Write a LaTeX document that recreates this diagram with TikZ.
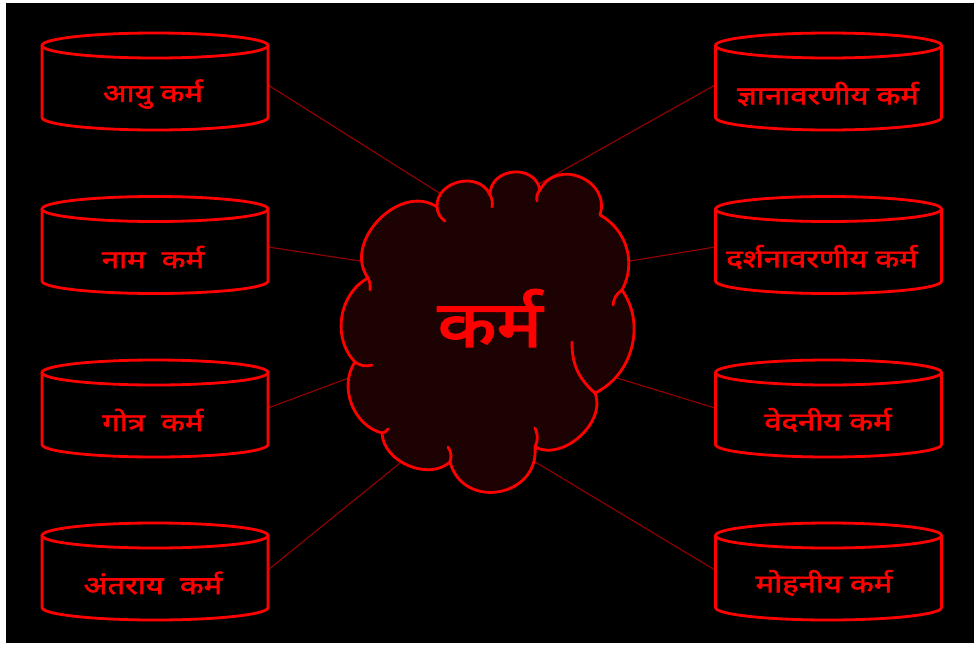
\documentclass[tikz,border=0pt]{standalone}
\usepackage{fontspec}
\newfontfamily\deva[Script=Devanagari, FakeBold=2.2, FakeStretch=1.24]{Noto Sans}
\newfontfamily\devabig[Script=Devanagari, FakeBold=2.6, FakeStretch=1.2]{Noto Sans}
\definecolor{kred}{RGB}{255,0,0}
\definecolor{kline}{RGB}{150,0,0}
\definecolor{kfill}{RGB}{28,2,2}
\tikzset{
  cylline/.style={draw=kred, line width=2.8pt},
  cloudline/.style={draw=kred, line width=2.8pt, line join=round, line cap=round},
  conn/.style={draw=kline, line width=1.1pt},
  lbl/.style={text=kred, font=\deva\fontsize{25}{30}\selectfont, inner sep=0pt},
  bigl/.style={text=kred, font=\devabig\fontsize{64}{70}\selectfont, inner sep=0pt},
  tailb/.style={cloudline, bend right=25},
}
\newcommand\drumcyl[2]{%
  \draw[cylline] ({#1},{-(#2+12.5)}) ellipse [x radius=113, y radius=12.5];
  \draw[cylline] ({#1-113},{-(#2+12.5)}) -- ({#1-113},{-(#2+84.5)})
     arc[start angle=180, end angle=360, x radius=113, y radius=12.5]
     -- ({#1+113},{-(#2+12.5)});
}
\begin{document}
\begin{tikzpicture}[x=1pt,y=1pt]
\useasboundingbox (0,0) rectangle (978,-646);
\fill[white] (0,0) rectangle (978,-646);
\fill[black] (6,-3) rectangle (974,-643);

% attachment points on cylinders
\coordinate (a1) at (268,-85);
\coordinate (a2) at (268,-247);
\coordinate (a3) at (268,-408);
\coordinate (a4) at (268,-570);
\coordinate (b1) at (715,-85);
\coordinate (b2) at (715,-247);
\coordinate (b3) at (715,-408);
\coordinate (b4) at (715,-570);
% end points hidden behind the cloud
\coordinate (ka1) at (452,-201);
\coordinate (ka2) at (380,-264);
\coordinate (ka3) at (362,-373);
\coordinate (ka4) at (405,-459);
\coordinate (kb1) at (528,-190);
\coordinate (kb2) at (612,-264);
\coordinate (kb3) at (604,-374);
\coordinate (kb4) at (522,-454);

\draw[conn] (a1) -- (ka1);
\draw[conn] (a2) -- (ka2);
\draw[conn] (a3) -- (ka3);
\draw[conn] (a4) -- (ka4);
\draw[conn] (b1) -- (kb1);
\draw[conn] (b2) -- (kb2);
\draw[conn] (b3) -- (kb3);
\draw[conn] (b4) -- (kb4);

% cloud
\coordinate (P1) at (355,-362);
\coordinate (P2) at (368,-278);
\coordinate (P3) at (437,-207);
\coordinate (P4) at (490,-195);
\coordinate (P5) at (540,-190);
\coordinate (P6) at (600,-215);
\coordinate (P7) at (622,-290);
\coordinate (P8) at (595,-393);
\coordinate (P9) at (535,-447);
\coordinate (P10) at (450,-462);
\coordinate (P11) at (382,-433);
\draw[cloudline, fill=kfill] (P1) to[bend left=53] (P2)
  to[bend left=80, looseness=1.15] (P3)
  to[bend left=80, looseness=1.25] (P4)
  to[bend left=85, looseness=1.4] (P5)
  to[bend left=85, looseness=1.45] (P6)
  to[bend left=45] (P7)
  to[bend left=50] (P8)
  to[bend left=70] (P9)
  to[bend left=85, looseness=1.5] (P10)
  to[bend left=65] (P11)
  to[bend left=55] (P1) -- cycle;
% inner tails of the puffs
\draw[tailb] (P1) to (372,-365);
\draw[cloudline] (P2) to[bend left=15] (370,-290);
\draw[tailb] (P3) to (445,-221);
\draw[cloudline] (P4) to[bend left=20] (492,-207);
\draw[tailb] (P5) to (537,-201);
\draw[tailb] (P7) to (613,-305);
\draw[cloudline] (P8) to[bend left=25] (572,-342);
\draw[tailb] (P9) to (535,-428);
\draw[tailb] (P10) to (448,-447);
\draw[tailb] (P11) to (388,-429);
\node[bigl] (karma) at (490,-318) {कर्म};

% cylinders
\drumcyl{155}{33}
\drumcyl{155}{196.5}
\drumcyl{155}{360}
\drumcyl{155}{523}
\drumcyl{828.5}{33}
\drumcyl{828.5}{196.5}
\drumcyl{828.5}{360}
\drumcyl{828.5}{523}

\node[lbl] (n1) at (153,-94) {आयु कर्म};
\node[lbl] (n2) at (153,-257) {नाम~~कर्म};
\node[lbl] (n3) at (153,-420) {गोत्र~~कर्म};
\node[lbl] (n4) at (153,-583) {अंतराय~~कर्म};
\node[lbl] (m1) at (828,-94) {ज्ञानावरणीय कर्म};
\node[lbl] (m2) at (822,-257) {दर्शनावरणीय कर्म};
\node[lbl] (m3) at (828,-420) {वेदनीय कर्म};
\node[lbl] (m4) at (824,-583) {मोहनीय कर्म};
\end{tikzpicture}
\end{document}
